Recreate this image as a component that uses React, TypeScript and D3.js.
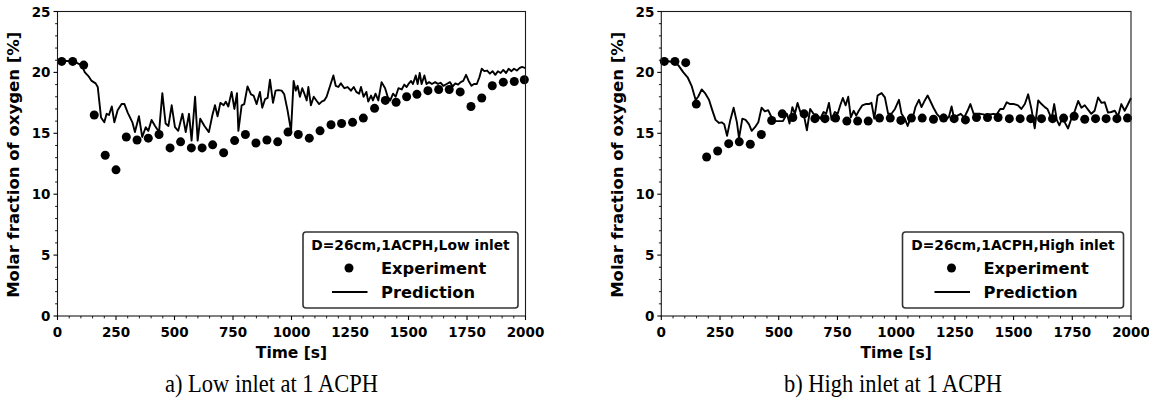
import React from "react";
import * as d3 from "d3";

// ---------- data ----------
const xTickLabels = ["0", "250", "500", "750", "1000", "1250", "1500", "1750", "2000"];
const yTickLabels = ["0", "5", "10", "15", "20", "25"];

const lowExpTime = [18, 65, 112, 157, 204, 250, 294, 340, 388, 434, 481, 526, 572, 618, 663, 710, 757, 803, 848, 895, 941, 985, 1029, 1076, 1122, 1169, 1214, 1261, 1307, 1355, 1401, 1447, 1492, 1536, 1583, 1629, 1674, 1721, 1767, 1813, 1858, 1905, 1952, 1995];
const lowExpValue = [20.9, 20.9, 20.6, 16.5, 13.2, 12.0, 14.7, 14.45, 14.6, 14.9, 13.8, 14.3, 13.8, 13.8, 14.05, 13.4, 14.4, 14.9, 14.2, 14.45, 14.3, 15.1, 14.9, 14.6, 15.2, 15.7, 15.8, 15.9, 16.25, 17.05, 17.7, 17.55, 18.0, 18.2, 18.5, 18.6, 18.6, 18.4, 17.2, 17.9, 18.9, 19.2, 19.25, 19.4];

const lowPredTime = [0, 68, 103, 117, 132, 146, 163, 172, 186, 200, 210, 220, 232, 243, 257, 274, 286, 300, 320, 331, 348, 362, 377, 388, 402, 417, 434, 448, 462, 474, 488, 502, 516, 534, 548, 562, 573, 588, 599, 610, 628, 647, 662, 673, 684, 696, 710, 719, 730, 744, 756, 767, 773, 787, 798, 812, 827, 838, 851, 865, 875, 887, 898, 908, 921, 932, 944, 958, 969, 983, 998, 1009, 1018, 1026, 1036, 1046, 1055, 1065, 1072, 1083, 1095, 1108, 1118, 1129, 1140, 1150, 1165, 1179, 1189, 1200, 1211, 1226, 1240, 1254, 1266, 1277, 1289, 1297, 1308, 1320, 1328, 1340, 1348, 1359, 1371, 1385, 1400, 1411, 1422, 1434, 1445, 1457, 1471, 1482, 1492, 1502, 1511, 1519, 1531, 1539, 1548, 1556, 1568, 1577, 1588, 1600, 1614, 1626, 1637, 1649, 1663, 1677, 1689, 1700, 1712, 1723, 1734, 1746, 1757, 1769, 1780, 1792, 1803, 1813, 1824, 1836, 1848, 1859, 1871, 1882, 1894, 1905, 1917, 1928, 1940, 1951, 1963, 1974, 1985, 2000];
const lowPredValue = [21.0, 20.9, 20.6, 20.0, 19.7, 19.3, 19.1, 18.8, 16.3, 15.9, 16.6, 16.5, 17.2, 15.9, 16.9, 17.4, 17.4, 16.7, 15.9, 15.1, 16.4, 14.7, 15.5, 15.2, 16.1, 15.6, 15.1, 18.3, 15.8, 15.6, 17.3, 15.5, 15.2, 16.6, 15.1, 16.6, 14.4, 18.0, 14.4, 16.2, 15.6, 15.1, 16.5, 17.3, 16.4, 17.5, 17.3, 17.6, 17.2, 18.4, 17.0, 18.3, 15.2, 17.3, 17.4, 18.85, 18.2, 18.1, 17.4, 18.4, 17.1, 17.8, 17.9, 19.4, 17.5, 18.5, 18.55, 18.5, 18.2, 16.9, 15.2, 19.3, 18.5, 18.9, 18.0, 18.7, 18.25, 17.7, 18.8, 17.3, 18.0, 17.65, 17.4, 17.6, 17.7, 18.0, 18.9, 19.75, 18.9, 18.8, 19.1, 18.7, 18.8, 18.5, 18.8, 18.4, 18.25, 18.8, 18.0, 18.4, 17.6, 18.1, 17.7, 18.25, 17.7, 19.2, 18.7, 18.0, 17.7, 18.25, 18.0, 18.7, 18.6, 19.0, 18.8, 19.1, 19.3, 19.05, 19.75, 19.05, 19.95, 19.05, 19.75, 19.05, 19.2, 19.05, 19.2, 19.05, 19.15, 18.9, 19.05, 19.2, 18.85, 19.1, 19.0, 19.2, 19.3, 19.8, 19.3, 18.9, 19.05, 19.05, 19.6, 20.3, 20.1, 20.15, 19.9, 20.1, 19.8, 20.1, 19.95, 20.2, 19.95, 20.3, 20.1, 20.3, 20.15, 20.35, 20.45, 20.35];

const highExpTime = [13, 58, 104, 149, 193, 240, 287, 332, 379, 426, 470, 515, 560, 608, 654, 697, 742, 790, 836, 881, 929, 975, 1020, 1065, 1111, 1159, 1202, 1247, 1295, 1342, 1389, 1434, 1482, 1528, 1573, 1619, 1666, 1713, 1758, 1803, 1849, 1894, 1940, 1985];
const highExpValue = [20.9, 20.9, 20.8, 17.4, 13.05, 13.55, 14.15, 14.3, 14.1, 14.9, 16.05, 16.6, 16.3, 16.6, 16.2, 16.2, 16.25, 16.0, 16.0, 16.0, 16.25, 16.25, 16.06, 16.25, 16.25, 16.15, 16.25, 16.2, 16.1, 16.3, 16.3, 16.3, 16.2, 16.2, 16.2, 16.2, 16.2, 16.25, 16.4, 16.15, 16.2, 16.2, 16.2, 16.25];

const highPredTime = [0, 37, 72, 94, 112, 129, 146, 157, 172, 186, 203, 217, 231, 246, 257, 268, 280, 294, 308, 322, 331, 345, 359, 373, 385, 399, 413, 427, 441, 455, 470, 484, 501, 518, 535, 546, 558, 569, 580, 592, 606, 620, 634, 648, 662, 677, 691, 702, 714, 725, 739, 751, 762, 773, 785, 796, 807, 819, 830, 841, 856, 870, 884, 895, 907, 921, 938, 952, 966, 980, 995, 1012, 1023, 1037, 1049, 1060, 1071, 1082, 1097, 1108, 1122, 1134, 1148, 1159, 1173, 1187, 1202, 1213, 1224, 1236, 1247, 1261, 1275, 1290, 1304, 1316, 1330, 1344, 1358, 1372, 1386, 1400, 1414, 1428, 1443, 1457, 1471, 1485, 1502, 1519, 1533, 1548, 1562, 1576, 1590, 1605, 1619, 1633, 1644, 1653, 1661, 1673, 1684, 1695, 1707, 1718, 1732, 1746, 1761, 1775, 1789, 1803, 1817, 1831, 1845, 1860, 1874, 1888, 1902, 1916, 1931, 1945, 1959, 1973, 1985, 2000];
const highPredValue = [21.0, 20.9, 20.6, 20.0, 19.6, 18.9, 17.75, 18.0, 18.6, 18.3, 17.75, 16.9, 16.1, 15.85, 15.9, 15.75, 14.8, 16.1, 17.1, 15.9, 14.6, 16.2, 16.1, 15.75, 15.2, 15.5, 15.9, 17.1, 16.8, 16.9, 16.3, 16.0, 16.0, 16.0, 16.6, 15.8, 17.15, 16.6, 17.5, 16.75, 16.6, 15.25, 17.0, 16.6, 16.55, 16.2, 16.75, 16.6, 17.5, 16.1, 16.75, 16.6, 17.3, 17.9, 17.3, 18.0, 16.3, 16.85, 16.45, 16.85, 17.3, 17.4, 17.4, 17.5, 16.2, 18.1, 18.3, 17.95, 16.6, 16.6, 17.0, 17.75, 16.6, 16.2, 15.6, 16.2, 16.3, 17.15, 17.75, 17.15, 17.7, 18.1, 17.55, 17.1, 16.6, 16.3, 16.55, 16.2, 16.3, 17.2, 16.2, 16.45, 16.6, 16.3, 16.85, 17.4, 16.6, 16.6, 16.6, 16.55, 16.45, 16.55, 16.6, 16.55, 17.0, 17.0, 17.55, 17.4, 17.4, 17.3, 17.0, 17.4, 18.2, 17.0, 15.4, 17.7, 17.4, 17.15, 17.0, 16.6, 16.1, 17.4, 16.1, 15.65, 16.2, 15.9, 15.4, 16.2, 16.85, 17.65, 17.1, 17.3, 16.95, 16.6, 16.85, 17.95, 17.5, 17.55, 16.7, 16.75, 16.85, 16.4, 17.4, 16.85, 17.3, 17.9];

const xLabel = "Time [s]";
const yLabel = "Molar fraction of oxygen [%]";
const legendTitles = ["D=26cm,1ACPH,Low inlet", "D=26cm,1ACPH,High inlet"];
const seriesNames = ["Experiment", "Prediction"];
const captions = ["a) Low inlet at 1 ACPH", "b) High inlet at 1 ACPH"];

const SANS = "'DejaVu Sans', sans-serif";
const SERIF = "'Liberation Serif', 'Times New Roman', serif";

type PanelProps = {
  left: number;
  right: number;
  top: number;
  bottom: number;
  expT: number[];
  expV: number[];
  predT: number[];
  predV: number[];
  title: string;
  legendWidth: number;
  caption: string;
  captionX: number;
  yLabelX: number;
};

function Panel(p: PanelProps) {
  const x = d3.scaleLinear().domain([0, 2000]).range([p.left, p.right]);
  const y = d3.scaleLinear().domain([0, 25]).range([p.bottom, p.top]);
  const xMajor = xTickLabels.map(Number);
  const yMajor = yTickLabels.map(Number);
  const xMinor = d3.range(0, 2001, 50).filter((v) => v % 250 !== 0);
  const yMinor = d3.range(0, 26, 1).filter((v) => v % 5 !== 0);
  const line = d3
    .line<number>()
    .x((_, i) => x(p.predT[i]))
    .y((d) => y(d));
  const cx = (p.left + p.right) / 2;
  const boxRight = p.right - 7.5;
  const boxBottom = p.bottom - 8;
  const boxH = 76;
  const boxLeft = boxRight - p.legendWidth;
  const boxTop = boxBottom - boxH;
  const lc = (boxLeft + boxRight) / 2;
  const clipId = `clip-${Math.round(p.left)}`;
  return (
    <g>
      <defs>
        <clipPath id={clipId}>
          <rect x={p.left} y={p.top - 6} width={p.right - p.left + 6} height={p.bottom - p.top + 6} />
        </clipPath>
      </defs>
      {/* prediction line */}
      <path
        d={line(p.predV) || ""}
        fill="none"
        stroke="#000"
        strokeWidth={1.9}
        strokeLinejoin="round"
        clipPath={`url(#${clipId})`}
      />
      {/* experiment markers */}
      {p.expV.map((v, i) => (
        <circle key={i} cx={x(p.expT[i])} cy={y(v)} r={4.5} fill="#000" />
      ))}
      {/* frame */}
      <rect
        x={p.left}
        y={p.top}
        width={p.right - p.left}
        height={p.bottom - p.top}
        fill="none"
        stroke="#1a1a1a"
        strokeWidth={1.1}
      />
      {/* x ticks */}
      {xMajor.map((v, i) => (
        <g key={"xm" + i}>
          <line x1={x(v)} x2={x(v)} y1={p.bottom} y2={p.bottom + 4} stroke="#000" strokeWidth={1.1} />
          <text
            x={x(v)}
            y={p.bottom + 20.5}
            textAnchor="middle"
            fontFamily={SANS}
            fontWeight="bold"
            fontSize={13.5}
          >
            {xTickLabels[i]}
          </text>
        </g>
      ))}
      {xMinor.map((v, i) => (
        <line key={"xn" + i} x1={x(v)} x2={x(v)} y1={p.bottom} y2={p.bottom + 2.4} stroke="#000" strokeWidth={0.9} />
      ))}
      {/* y ticks */}
      {yMajor.map((v, i) => (
        <g key={"ym" + i}>
          <line x1={p.left - 4} x2={p.left} y1={y(v)} y2={y(v)} stroke="#000" strokeWidth={1.1} />
          <text
            x={p.left - 7}
            y={y(v) + 5}
            textAnchor="end"
            fontFamily={SANS}
            fontWeight="bold"
            fontSize={13.5}
          >
            {yTickLabels[i]}
          </text>
        </g>
      ))}
      {yMinor.map((v, i) => (
        <line key={"yn" + i} x1={p.left - 2.4} x2={p.left} y1={y(v)} y2={y(v)} stroke="#000" strokeWidth={0.9} />
      ))}
      {/* axis labels */}
      <text x={cx} y={p.bottom + 42} textAnchor="middle" fontFamily={SANS} fontWeight="bold" fontSize={15.5}>
        {xLabel}
      </text>
      <text
        transform={`translate(${p.yLabelX},${(p.top + p.bottom) / 2 + 1}) rotate(-90)`}
        textAnchor="middle"
        fontFamily={SANS}
        fontWeight="bold"
        fontSize={16.5}
        dy="0.35em"
      >
        {yLabel}
      </text>
      {/* legend */}
      <rect
        x={boxLeft}
        y={boxTop}
        width={p.legendWidth}
        height={boxH}
        rx={3}
        fill="#fff"
        stroke="#333"
        strokeWidth={1.6}
      />
      <text x={lc} y={boxTop + 17.5} textAnchor="middle" fontFamily={SANS} fontWeight="bold" fontSize={13.8}>
        {p.title}
      </text>
      <circle cx={lc - 61.5} cy={boxTop + 36} r={4.5} fill="#000" />
      <text x={lc - 29.5} y={boxTop + 42} fontFamily={SANS} fontWeight="bold" fontSize={16.3}>
        {seriesNames[0]}
      </text>
      <line x1={lc - 78.5} x2={lc - 43} y1={boxTop + 60} y2={boxTop + 60} stroke="#000" strokeWidth={1.9} />
      <text x={lc - 29.5} y={boxTop + 66} fontFamily={SANS} fontWeight="bold" fontSize={16.3}>
        {seriesNames[1]}
      </text>
      {/* caption */}
      <text
        transform={`translate(${p.captionX},392) scale(0.9,1)`}
        textAnchor="middle"
        fontFamily={SERIF}
        fontSize={25}
      >
        {p.caption}
      </text>
    </g>
  );
}

export default function App() {
  return (
    <svg
      width={1149}
      height={401}
      style={{ position: "absolute", left: 0, top: 0, background: "#fff" }}
    >
      <rect x={0} y={0} width={1149} height={401} fill="#fff" />
      <Panel
        left={57.5}
        right={525.5}
        top={11.5}
        bottom={316}
        expT={lowExpTime}
        expV={lowExpValue}
        predT={lowPredTime}
        predV={lowPredValue}
        title={legendTitles[0]}
        legendWidth={215}
        caption={captions[0]}
        captionX={271.5}
        yLabelX={13.5}
      />
      <Panel
        left={661.3}
        right={1131}
        top={11.5}
        bottom={316}
        expT={highExpTime}
        expV={highExpValue}
        predT={highPredTime}
        predV={highPredValue}
        title={legendTitles[1]}
        legendWidth={221}
        caption={captions[1]}
        captionX={893}
        yLabelX={617.5}
      />
    </svg>
  );
}
